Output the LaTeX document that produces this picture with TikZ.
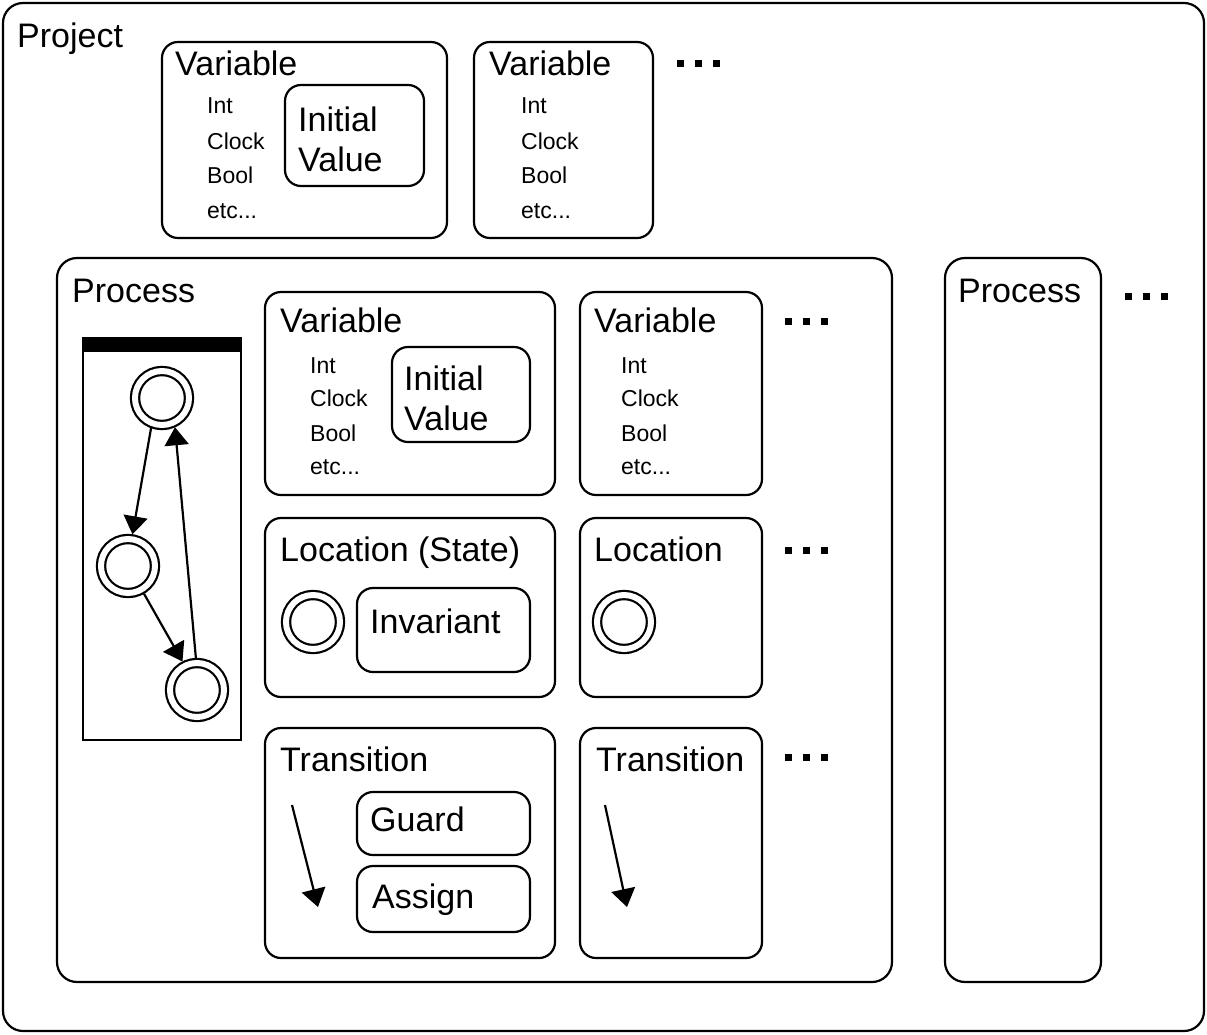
\documentclass[tikz,border=0pt]{standalone}
\usepackage{fontspec}
\setmainfont{Liberation Sans}
\usetikzlibrary{arrows.meta}
\begin{document}
\begin{tikzpicture}[x=1pt,y=-1pt,
  box/.style={draw,line width=2.2pt,rounded corners=16pt,inner sep=0pt},
  ibox/.style={draw,line width=2.2pt,rounded corners=16pt,inner sep=0pt},
  title/.style={anchor=base west,inner sep=0pt,font=\fontsize{34}{38}\selectfont},
  small/.style={anchor=base west,inner sep=0pt,font=\fontsize{23}{26}\selectfont},
  dcirc/.style={circle,draw,line width=2.2pt,double,double distance=6pt,minimum size=54pt,inner sep=0pt,outer sep=5pt},
  arr/.style={line width=2.2pt,-{Triangle[length=18pt,width=24pt]}},
  dot/.style={fill=black,minimum size=7pt,inner sep=0pt}
]
\useasboundingbox (0,0) rectangle (1207,1034);
% project
\node[box,rounded corners=20pt,minimum width=1201pt,minimum height=1028pt] (project) at (603.5,517) {};
\node[title] (projectT) at (17,47) {Project};
% top variables
\node[box,minimum width=285pt,minimum height=196pt] (tv1) at (304.5,140) {};
\node[ibox,minimum width=139pt,minimum height=101pt] (tiv1) at (354.5,135.5) {};
\node[title] (tv1T) at (175,75) {Variable};
\node[small] (tv1a) at (207,113) {Int};
\node[small] (tv1b) at (207,149) {Clock};
\node[small] (tv1c) at (207,183) {Bool};
\node[small] (tv1d) at (207,218) {etc...};
\node[title] (tiv1a) at (298,131) {Initial};
\node[title] (tiv1b) at (298,171) {Value};
\node[box,minimum width=179pt,minimum height=196pt] (tv2) at (563.5,140) {};
\node[title] (tv2T) at (489,75) {Variable};
\node[small] (tv2a) at (521,113) {Int};
\node[small] (tv2b) at (521,149) {Clock};
\node[small] (tv2c) at (521,183) {Bool};
\node[small] (tv2d) at (521,218) {etc...};
\foreach \i/\x in {1/680,2/698,3/716} \node[dot] (td\i) at (\x,63) {};
% processes
\node[box,rounded corners=20pt,minimum width=835pt,minimum height=724pt] (proc) at (474.5,620) {};
\node[title] (procT) at (72,302) {Process};
\node[box,rounded corners=20pt,minimum width=156pt,minimum height=724pt] (proc2) at (1023,620) {};
\node[title] (proc2T) at (958,302) {Process};
\foreach \i/\x in {1/1128,2/1146,3/1164} \node[dot] (pd\i) at (\x,296) {};
% automaton panel
\node[draw,line width=2.2pt,minimum width=158pt,minimum height=402pt,inner sep=0pt] (panel) at (162,539) {};
\node[fill=black,minimum width=158pt,minimum height=15pt,inner sep=0pt,anchor=north] (bar) at (panel.north) {};
\node[dcirc] (c1) at (162,398) {};
\node[dcirc] (c2) at (128,566) {};
\node[dcirc] (c3) at (197,690) {};
\draw[arr] (c1.250) -- (c2.82);
\draw[arr] (c2.300) -- (c3.117);
\draw[arr] (c3.92) -- (c1.294);
% process variables
\node[box,minimum width=290pt,minimum height=203pt] (pv1) at (410,393.5) {};
\node[ibox,minimum width=138pt,minimum height=95pt] (piv) at (461,394.5) {};
\node[title] (pv1T) at (280,332) {Variable};
\node[small] (pv1a) at (310,373) {Int};
\node[small] (pv1b) at (310,406) {Clock};
\node[small] (pv1c) at (310,441) {Bool};
\node[small] (pv1d) at (310,474) {etc...};
\node[title] (piva) at (404,390) {Initial};
\node[title] (pivb) at (404,430) {Value};
\node[box,minimum width=182pt,minimum height=203pt] (pv2) at (671,393.5) {};
\node[title] (pv2T) at (594,332) {Variable};
\node[small] (pv2a) at (621,373) {Int};
\node[small] (pv2b) at (621,406) {Clock};
\node[small] (pv2c) at (621,441) {Bool};
\node[small] (pv2d) at (621,474) {etc...};
\foreach \i/\x in {1/788,2/806,3/824} \node[dot] (vd\i) at (\x,321) {};
% locations
\node[box,minimum width=290pt,minimum height=179pt] (loc1) at (410,607.5) {};
\node[title] (loc1T) at (280,561) {Location (State)};
\node[dcirc] (lc1) at (313,622) {};
\node[ibox,minimum width=173pt,minimum height=84pt] (inv) at (443.5,630) {};
\node[title] (invT) at (370,633) {Invariant};
\node[box,minimum width=182pt,minimum height=179pt] (loc2) at (671,607.5) {};
\node[title] (loc2T) at (594,561) {Location};
\node[dcirc] (lc2) at (624,622) {};
\foreach \i/\x in {1/788,2/806,3/824} \node[dot] (ld\i) at (\x,550) {};
% transitions
\node[box,minimum width=290pt,minimum height=230pt] (tr1) at (410,843) {};
\node[title] (tr1T) at (280,771) {Transition};
\node[ibox,minimum width=173pt,minimum height=63pt] (guard) at (443.5,823.5) {};
\node[title] (guardT) at (370,831) {Guard};
\node[ibox,minimum width=173pt,minimum height=66pt] (assign) at (443.5,899) {};
\node[title] (assignT) at (372,908) {Assign};
\coordinate (t1s) at (292,805);
\coordinate (t1e) at (318,907);
\draw[arr] (t1s) -- (t1e);
\node[box,minimum width=182pt,minimum height=230pt] (tr2) at (671,843) {};
\node[title] (tr2T) at (596,771) {Transition};
\coordinate (t2s) at (605,805);
\coordinate (t2e) at (627,907);
\draw[arr] (t2s) -- (t2e);
\foreach \i/\x in {1/788,2/806,3/824} \node[dot] (rd\i) at (\x,757) {};
\end{tikzpicture}
\end{document}
